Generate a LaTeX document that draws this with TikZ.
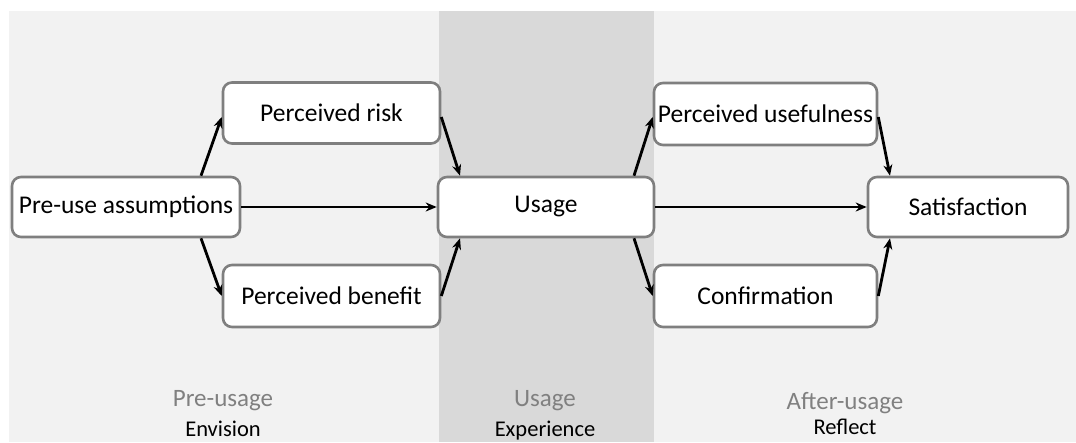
\documentclass[tikz,border=0pt]{standalone}
\usepackage{fontspec}
\setmainfont{Carlito}
\usetikzlibrary{arrows.meta,calc}
\definecolor{panel}{HTML}{F2F2F2}
\definecolor{band}{HTML}{D9D9D9}
\definecolor{edge}{HTML}{7F7F7F}
\definecolor{phase}{HTML}{808080}
\begin{document}
\begin{tikzpicture}[x=1pt,y=-1pt,
  box/.style={draw=edge,line width=2.6pt,rounded corners=9pt,fill=white,
    inner sep=0pt,font=\fontsize{25.5}{28}\selectfont},
  flow/.style={line width=2.8pt,-{Stealth[length=11pt,width=9pt]}},
  phasename/.style={text=phase,anchor=base,font=\fontsize{25}{28}\selectfont},
  phaseverb/.style={text=black,anchor=base,font=\fontsize{22.5}{25}\selectfont}]
  \useasboundingbox (0,0) rectangle (1076,442);
  % phase backgrounds
  \fill[panel] (9,11) rectangle (1076,442);
  \fill[band] (439,11) rectangle (654,442);
  % stages
  \node[box,minimum width=228pt,minimum height=60pt] (pre) at (126,207) {Pre-use assumptions};
  \node[box,minimum width=217pt,minimum height=61pt] (risk) at (331.5,113) {Perceived risk};
  \node[box,minimum width=217pt,minimum height=62pt] (benefit) at (331.5,296) {Perceived benefit};
  \node[box,minimum width=216pt,minimum height=60pt] (usage) at (546,207) {Usage};
  \node[box,minimum width=223pt,minimum height=62pt] (useful) at (765.5,114) {Perceived usefulness};
  \node[box,minimum width=223pt,minimum height=62pt] (confirm) at (765.5,296) {Confirmation};
  \node[box,minimum width=200pt,minimum height=60pt] (sat) at (968,207) {Satisfaction};
  % connectors
  \draw[flow] ([xshift=75pt]pre.north) -- ([yshift=-4pt]risk.west);
  \draw[flow] ([xshift=75pt]pre.south) -- (benefit.west);
  \draw[flow] (pre.east) -- (usage.west);
  \draw[flow] ([yshift=-4pt]risk.east) -- ([xshift=-86pt]usage.north);
  \draw[flow] (benefit.east) -- ([xshift=-86pt]usage.south);
  \draw[flow] ([xshift=88pt]usage.north) -- ([yshift=-3pt]useful.west);
  \draw[flow] ([xshift=88pt]usage.south) -- (confirm.west);
  \draw[flow] (usage.east) -- (sat.west);
  \draw[flow] ([yshift=-3pt]useful.east) -- ([xshift=-78pt]sat.north);
  \draw[flow] (confirm.east) -- ([xshift=-78pt]sat.south);
  % phase captions
  \node[phasename] (prename) at (223,406) {Pre-usage};
  \node[phaseverb] (preverb) at (223,436) {Envision};
  \node[phasename] (usename) at (545,406) {Usage};
  \node[phaseverb] (useverb) at (545,436) {Experience};
  \node[phasename] (aftername) at (845,409) {After-usage};
  \node[phaseverb] (afterverb) at (845,434) {Reflect};
\end{tikzpicture}
\end{document}
